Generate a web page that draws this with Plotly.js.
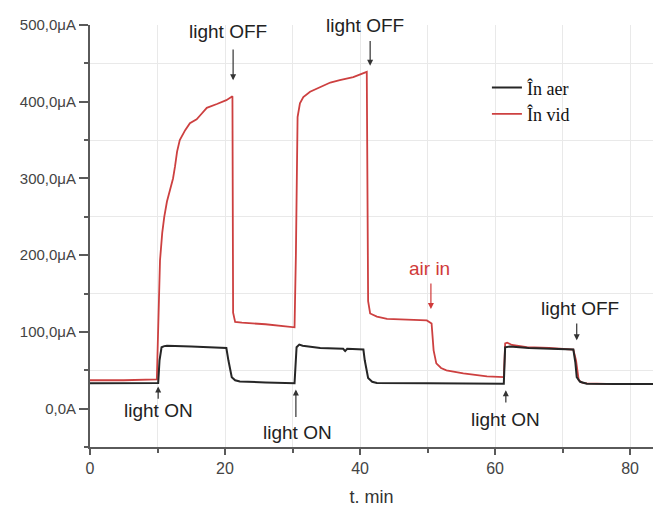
<!DOCTYPE html>
<html>
<head>
<meta charset="utf-8">
<script src="https://cdn.plot.ly/plotly-3.0.1.min.js"></script>
<style>
  html, body { margin: 0; padding: 0; background: #fff; }
  #chart { width: 654px; height: 510px; }
</style>
</head>
<body>
<div id="chart"></div>
<script>
// Photocurrent vs. time, measured in air and in vacuum (minutes, microamps)
const timeAer = [0, 5, 10.1, 10.3, 10.6, 11.0, 11.4, 15, 20.2, 20.5, 21.0, 21.5, 22.2, 26, 30.3,
  30.6, 31.0, 31.5, 33.0, 34.1, 37.5, 37.8, 38.1, 40.5, 40.7, 41.2, 41.8, 42.5, 50, 61.3,
  61.5, 62.2, 65, 71.6, 71.9, 72.1, 72.6, 73.6, 78, 83.4];
const currentAer = [33, 33, 33.5, 63, 80, 81.5, 82, 81, 79, 63, 41, 37, 35.5, 34, 33,
  80, 83.5, 82, 80, 79, 78, 75, 78, 77, 63, 40, 35, 33.5, 33, 32.5,
  80, 81, 79, 77, 60, 41, 35, 32.5, 32, 32];

const timeVid = [0, 5, 9.9, 10.1, 10.37, 10.7, 11.0, 11.4, 11.85, 12.3, 12.6, 12.9, 13.3, 14.1,
  14.8, 15.8, 16.5, 17.3, 18.8, 20.2, 21.1, 21.2, 21.5, 22.5, 26, 30.3, 30.5, 30.75, 31.1,
  31.6, 32.6, 34.1, 35.6, 37.0, 39.0, 41.0, 41.2, 41.5, 42.5, 44, 47, 49.9, 50.6, 50.9,
  51.3, 52.0, 52.8, 55.3, 58.8, 61.3, 61.5, 61.8, 62.5, 64.7, 68, 71.6, 72.0, 72.4, 72.9,
  73.6, 78, 83.4];
const currentVid = [37, 37, 38, 120, 193, 229, 250, 270, 285, 300, 316, 335, 350, 363,
  372, 377, 384, 392, 397, 402, 407, 125, 113, 112, 110, 106, 200, 380, 398,
  406, 413, 419, 425, 428, 432, 439, 140, 124, 120, 117, 116, 115, 111, 76,
  59, 53, 50, 46, 42, 41, 85, 86, 83, 80, 79, 77, 63, 37, 34,
  33, 32, 32];

const seriesNames = ['În aer', 'În vid'];
const xTickVals = [0, 20, 40, 60, 80];
const yTickVals = [0, 100, 200, 300, 400, 500];
const yTickText = ['0,0A', '100,0μA', '200,0μA', '300,0μA', '400,0μA', '500,0μA'];

// Event markers: label, label position, arrow tail and arrow tip (data units)
const events = [
  { text: 'light OFF', tx: 20.4, ty: 492, ax: 21.2, ay: 470, hx: 21.2, hy: 428, color: '#222' },
  { text: 'light OFF', tx: 40.7, ty: 499, ax: 41.5, ay: 481, hx: 41.5, hy: 447, color: '#222' },
  { text: 'air in',    tx: 50.3, ty: 182, ax: 50.5, ay: 165, hx: 50.5, hy: 130, color: '#d03a3a' },
  { text: 'light OFF', tx: 72.6, ty: 131, ax: 72.1, ay: 113, hx: 72.1, hy: 89, color: '#222' },
  { text: 'light ON',  tx: 10.1, ty: -3,  ax: 10.1, ay: 11,  hx: 10.1, hy: 29, color: '#222' },
  { text: 'light ON',  tx: 30.7, ty: -31, ax: 30.5, ay: -13, hx: 30.5, hy: 25, color: '#222' },
  { text: 'light ON',  tx: 61.5, ty: -14, ax: 61.6, ay: 6,   hx: 61.6, hy: 24, color: '#222' }
];

const traces = [
  { x: timeVid, y: currentVid, name: seriesNames[1], mode: 'lines',
    line: { color: '#cd4040', width: 1.8 } },
  { x: timeAer, y: currentAer, name: seriesNames[0], mode: 'lines',
    line: { color: '#262626', width: 2 } }
];

const annotations = [];
events.forEach(e => {
  annotations.push({ x: e.tx, y: e.ty, xref: 'x', yref: 'y', text: e.text, showarrow: false,
    font: { family: 'Liberation Sans, Arial, sans-serif', size: 19, color: e.color } });
  annotations.push({ x: e.hx, y: e.hy, ax: e.ax, ay: e.ay, xref: 'x', yref: 'y',
    axref: 'x', ayref: 'y', text: '', showarrow: true, arrowhead: 2, arrowsize: 1,
    arrowwidth: 1.2, arrowcolor: e.color === '#222' ? '#333' : e.color, standoff: 0 });
});

const axisCommon = {
  showline: true, linecolor: '#5a5a5a', linewidth: 2, zeroline: false,
  showgrid: false, ticks: 'outside', tickcolor: '#5a5a5a', tickwidth: 2,
  tickfont: { family: 'Liberation Sans, Arial, sans-serif', color: '#444' }
};

const layout = {
  width: 654, height: 510,
  margin: { l: 90, r: 1, t: 25, b: 63 },
  paper_bgcolor: '#fff', plot_bgcolor: '#fff',
  showlegend: true,
  legend: {
    x: 0.705, y: 0.895, xanchor: 'left', yanchor: 'top',
    bgcolor: 'rgba(0,0,0,0)', traceorder: 'reversed',
    font: { family: 'Liberation Serif, Times New Roman, serif', size: 18, color: '#111' }
  },
  xaxis: Object.assign({}, axisCommon, {
    range: [0, 83.4], tickvals: xTickVals, ticklen: 6,
    tickfont: Object.assign({}, axisCommon.tickfont, { size: 16 }),
    minor: { dtick: 10, tick0: 0, ticks: 'outside', ticklen: 4, tickcolor: '#5a5a5a',
      showgrid: true, gridcolor: '#e9e9e9', gridwidth: 1 },
    title: { text: 't. min', standoff: 14,
      font: { family: 'Liberation Sans, Arial, sans-serif', size: 18, color: '#333' } }
  }),
  yaxis: Object.assign({}, axisCommon, {
    range: [-50, 500], tickvals: yTickVals, ticktext: yTickText, ticklen: 9,
    tickfont: Object.assign({}, axisCommon.tickfont, { size: 15 }),
    minor: { dtick: 100, tick0: 50, ticks: 'outside', ticklen: 4, tickcolor: '#5a5a5a',
      showgrid: true, gridcolor: '#e9e9e9', gridwidth: 1 }
  }),
  annotations: annotations
};

Plotly.newPlot('chart', traces, layout, { displayModeBar: false, staticPlot: true });
</script>
</body>
</html>
